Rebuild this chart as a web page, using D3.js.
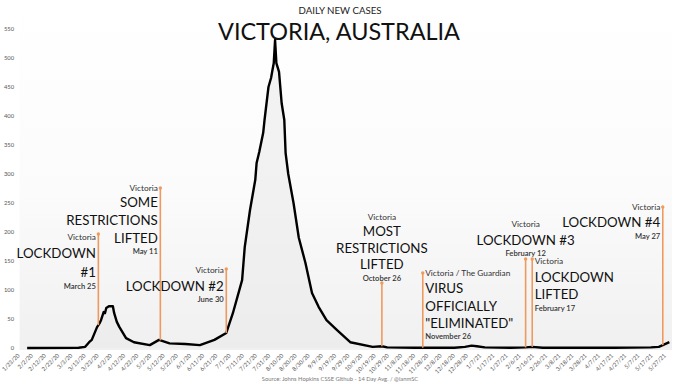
<!DOCTYPE html>
<html><head><meta charset="utf-8">
<script src="https://cdn.jsdelivr.net/npm/d3@7"></script>
<style>
body{margin:0;background:#fff;}
svg{display:block;font-family:Lato,"Noto Sans",sans-serif;}
</style></head>
<body><svg id="c" width="680" height="384"></svg>
<script>
// ---- data ----
const dates = ["1/31/20","3/10/20","3/15/20","3/18/20","3/20/20","3/24/20","3/26/20","3/27/20","3/29/20","3/30/20","3/31/20","4/2/20","4/5/20","4/6/20","4/8/20","4/10/20","4/15/20","4/21/20","5/3/20","5/10/20","5/18/20","5/30/20","6/10/20","6/21/20","6/30/20","7/5/20","7/12/20","7/14/20","7/18/20","7/22/20","7/23/20","7/25/20","7/28/20","7/29/20","8/1/20","8/3/20","8/4/20","8/5/20","8/6/20","8/7/20","8/9/20","8/11/20","8/13/20","8/14/20","8/16/20","8/20/20","8/24/20","8/29/20","9/3/20","9/8/20","9/14/20","9/22/20","10/2/20","10/19/20","10/26/20","10/30/20","11/20/20","12/20/20","12/28/20","1/2/21","1/6/21","1/12/21","2/1/21","2/12/21","2/17/21","2/25/21","3/20/21","4/20/21","5/18/21","5/24/21","5/27/21","6/1/21"];
const values = [0,0.5,2,10,14,36,43,48,62,60,69,72,72,60,45,36,17,10,5,14,8,7,5,14,26,60,117,174,238,290,319,338,371,393,450,466,479,491,531,491,476,422,393,336,300,250,190,147,95,71,48,31,10,2,3,1,0.5,0.5,2,4,3,1,0.5,1,2,0.5,0.5,0.5,1,2,5,10];
const yTicks = [0,50,100,150,200,250,300,350,400,450,500,550];
const tickStart = "1/23/20", tickEnd = "5/27/21", tickStepDays = 10;
const titleSmall = "DAILY NEW CASES";
const titleBig = "VICTORIA, AUSTRALIA";
const sourceText = "Source: Johns Hopkins CSSE Github - 14 Day Avg. / @ianmSC";
const annoDates = ["3/25/20","5/11/20","6/30/20","10/26/20","11/26/20","2/12/21","2/17/21","5/27/21"];
const annoSources = ["Victoria","Victoria","Victoria","Victoria","Victoria / The Guardian","Victoria","Victoria","Victoria"];
const annoTitles = [["LOCKDOWN","#1"],["SOME","RESTRICTIONS","LIFTED"],["LOCKDOWN #2"],["MOST","RESTRICTIONS","LIFTED"],["VIRUS","OFFICIALLY","\"ELIMINATED\""],["LOCKDOWN #3"],["LOCKDOWN","LIFTED"],["LOCKDOWN #4"]];
const annoDateLabels = ["March 25","May 11","June 30","October 26","November 26","February 12","February 17","May 27"];

// ---- layout (positions only) ----
const annoLayout = [
  {anchor:"end",  dotY:234, ys:[240,258,277,289]},
  {anchor:"end",  dotY:188, ys:[191,207,225,243,254]},
  {anchor:"end",  dotY:269, ys:[273,291,302]},
  {anchor:"middle",dotY:283, ys:[220,236,253,269,281]},
  {anchor:"start",dotY:273, ys:[276,293,311,328,339]},
  {anchor:"middle",dotY:259, ys:[227,245,256]},
  {anchor:"start",dotY:259, ys:[264,282,299,311]},
  {anchor:"end",  dotY:207, ys:[210,227,239]}
];

const parse = d3.timeParse("%m/%d/%y");
const data = dates.map((d,i)=>({date:parse(d), value:values[i]}));
const svg = d3.select("#c");

const x = d3.scaleTime().domain([parse("1/23/20"), parse("6/3/21")]).range([16.6, 672]);
const y = d3.scaleLinear().domain([0,600]).range([348,0]);

// background gradient
const defs = svg.append("defs");
const grad = defs.append("linearGradient").attr("id","bg").attr("x1",0).attr("y1",0).attr("x2",0).attr("y2",1);
grad.append("stop").attr("offset","0%").attr("stop-color","#ffffff");
grad.append("stop").attr("offset","55%").attr("stop-color","#fbfbfb");
grad.append("stop").attr("offset","100%").attr("stop-color","#f0f0f0");
svg.append("rect").attr("x",x.range()[0]+3).attr("y",0).attr("width",x.range()[1]-x.range()[0]-3).attr("height",y(0)+2).attr("fill","url(#bg)");

// area under curve (faint daily bars impression)
const area = d3.area().x(d=>x(d.date)).y0(y(0)).y1(d=>y(d.value));
svg.append("path").datum(data).attr("d",area).attr("fill","#e9e9e9").attr("opacity",0.55);

// titles
svg.append("text").attr("x",340).attr("y",14).attr("text-anchor","middle").attr("font-size",8.5).attr("fill","#222").attr("textLength",83).attr("lengthAdjust","spacingAndGlyphs").text(titleSmall);
svg.append("text").attr("x",339).attr("y",40).attr("text-anchor","middle").attr("font-size",22.5).attr("fill","#111").attr("textLength",242).attr("lengthAdjust","spacingAndGlyphs").text(titleBig);

// y axis labels
svg.append("g").selectAll("text").data(yTicks).join("text")
  .attr("x",14).attr("y",d=>y(d)+2).attr("text-anchor","end").attr("font-size",5.8).attr("fill","#555").text(d=>d);

// x axis labels
const tStart = parse(tickStart), tEnd = parse(tickEnd);
const xTicks = d3.timeDay.range(tStart, d3.timeDay.offset(tEnd,1), tickStepDays);
const fmt = d3.timeFormat("%-m/%-d/%y");
svg.append("g").selectAll("text").data(xTicks).join("text")
  .attr("transform",d=>`translate(${x(d)+3.5},356) rotate(-45)`)
  .attr("text-anchor","end").attr("font-size",5.8).attr("fill","#555").text(d=>fmt(d));

// line
const line = d3.line().x(d=>x(d.date)).y(d=>y(d.value)).curve(d3.curveLinear);
svg.append("path").datum(data).attr("d",line).attr("fill","none").attr("stroke","#000").attr("stroke-width",2.4).attr("stroke-linejoin","round");

// value at date (linear between data points)
function valueAt(dt){
  const i = d3.bisector(d=>d.date).left(data, dt);
  if(i<=0) return data[0].value;
  if(i>=data.length) return data[data.length-1].value;
  const a=data[i-1], b=data[i];
  const t=(dt-a.date)/(b.date-a.date);
  return a.value+(b.value-a.value)*t;
}

// annotations
const orange = "#ef9a5c";
annoDates.forEach((ds,i)=>{
  const dt = parse(ds), L = annoLayout[i];
  const ax = x(dt);
  const g = svg.append("g");
  g.append("line").attr("x1",ax).attr("x2",ax).attr("y1",L.dotY).attr("y2",y(valueAt(dt))).attr("stroke",orange).attr("stroke-width",1.6);
  g.append("circle").attr("cx",ax).attr("cy",L.dotY).attr("r",1.7).attr("fill",orange);
  const tx = L.anchor==="end" ? ax-2.5 : L.anchor==="start" ? ax+2.5 : ax;
  const lines = [{t:annoSources[i],s:"small"}].concat(annoTitles[i].map(t=>({t,s:"big"}))).concat([{t:annoDateLabels[i],s:"date"}]);
  lines.forEach((ln,j)=>{
    g.append("text").attr("x",tx).attr("y",L.ys[j]).attr("text-anchor",L.anchor)
      .attr("font-size", ln.s==="big"?13.3:(ln.s==="small"?8.3:7.6))
      .attr("font-weight", ln.s==="date"?600:400)
      .attr("fill", ln.s==="big"?"#111":"#333").text(ln.t);
  });
});

// source
svg.append("text").attr("x",340).attr("y",381).attr("text-anchor","middle").attr("font-size",5.8).attr("fill","#777").text(sourceText);
</script></body></html>
